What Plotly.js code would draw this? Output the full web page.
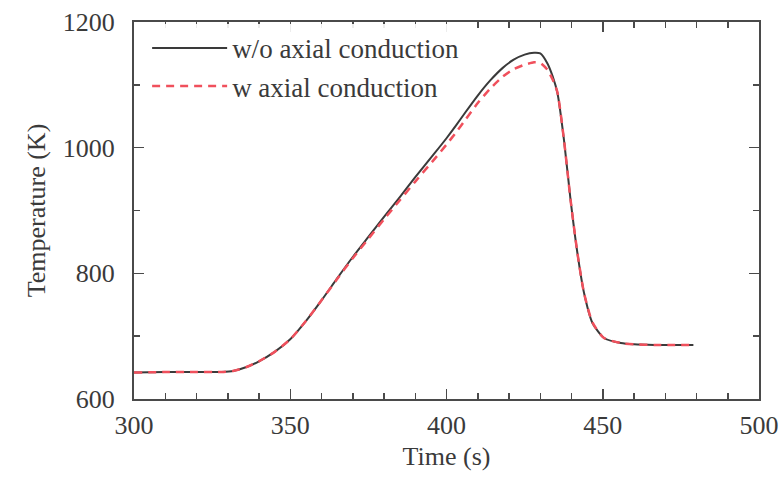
<!DOCTYPE html>
<html>
<head>
<meta charset="utf-8">
<script src="https://cdn.plot.ly/plotly-3.0.1.min.js"></script>
<style>html,body{margin:0;padding:0;background:#fff;}#chart{width:784px;height:479px;}</style>
</head>
<body>
<div id="chart"></div>
<script>
// Time (s) and temperature (K)
const timeNoAxial = [300, 310, 320, 328, 332, 336, 340, 345, 350, 355, 360, 365, 370, 375, 380, 385, 390, 396, 400, 403, 406, 410, 414, 418, 421.5, 425, 428, 430, 432.3, 434, 435.5, 437.6, 439.7, 441.9, 444, 446.7, 450.4, 455.8, 460, 466.5, 472, 479];
const tempNoAxial = [642, 643, 643, 643, 645, 651, 660, 675, 695, 724, 757, 792, 826, 858, 890, 921, 953, 990, 1015, 1035, 1056, 1083, 1107, 1127, 1140, 1148, 1151, 1150, 1134, 1113, 1087, 1012, 917, 832, 769, 721, 697, 689, 687, 686, 686, 686];

const timeAxial = [300, 310, 320, 328, 332, 336, 340, 345, 350, 355, 360, 365, 370, 375, 380, 385, 390, 396, 400, 403, 406, 410, 414, 418, 421.5, 425, 428, 430, 432.3, 434, 435.5, 437.6, 439.7, 441.9, 444, 446.7, 450.4, 455.8, 460, 466.5, 472, 479];
const tempAxial   = [642, 643, 643, 643, 645, 651, 660, 675, 695, 724, 757, 791, 824, 855, 886, 916, 946, 981, 1005, 1024, 1044, 1071, 1094, 1113, 1125, 1132, 1136, 1135, 1124, 1108, 1088, 1012, 917, 832, 769, 722, 697, 689, 687, 686, 686, 686];

const seriesNames = ['w/o axial conduction', 'w axial conduction'];

const serif = 'Liberation Serif, Times New Roman, serif';
const axisColor = '#4a4a4a';
const textColor = '#3a3a3a';

const traces = [
  {x: timeNoAxial, y: tempNoAxial, name: seriesNames[0], type: 'scatter', mode: 'lines',
   line: {color: '#3a3a3a', width: 2, shape: 'spline', smoothing: 0.6}},
  {x: timeAxial, y: tempAxial, name: seriesNames[1], type: 'scatter', mode: 'lines',
   line: {color: '#f0505c', width: 2.5, dash: '8px,6px', shape: 'spline', smoothing: 0.6}}
];

const axisCommon = {
  showline: true, linecolor: axisColor, linewidth: 2, mirror: 'allticks',
  ticks: 'inside', tickcolor: axisColor, tickwidth: 1.5, ticklen: 10,
  showgrid: false, zeroline: false,
  tickfont: {family: serif, size: 26, color: textColor}
};

const layout = {
  width: 784, height: 479,
  margin: {l: 134, r: 25, t: 22, b: 80},
  paper_bgcolor: '#fff', plot_bgcolor: '#fff',
  showlegend: true,
  legend: {x: 0.021, y: 0.995, xanchor: 'left', yanchor: 'top', bgcolor: 'rgba(255,255,255,0.9)',
           font: {family: serif, size: 27, color: textColor}, itemwidth: 75, tracegroupgap: 0},
  xaxis: Object.assign({}, axisCommon, {
    range: [300, 500], dtick: 50, tick0: 300,
    minor: {dtick: 10, ticklen: 6, ticks: 'inside', tickcolor: axisColor, tickwidth: 1.5},
    ticklabelstandoff: 2,
    title: {text: 'Time (s)', font: {family: serif, size: 26, color: textColor}, standoff: 8}
  }),
  yaxis: Object.assign({}, axisCommon, {
    range: [600, 1200], dtick: 200, tick0: 600,
    minor: {dtick: 100, ticklen: 6, ticks: 'inside', tickcolor: axisColor, tickwidth: 1.5},
    ticklabelstandoff: 12,
    title: {text: 'Temperature (K)', font: {family: serif, size: 26, color: textColor}, standoff: 10}
  })
};

Plotly.newPlot('chart', traces, layout, {displayModeBar: false, staticPlot: true});
</script>
</body>
</html>
